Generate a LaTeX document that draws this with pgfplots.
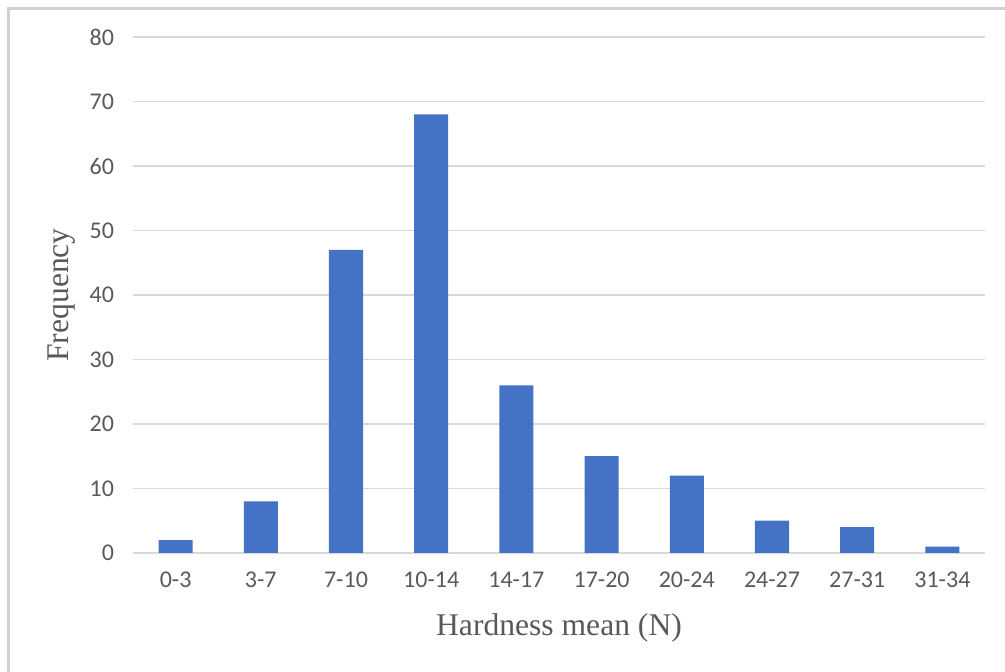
\documentclass[border=0pt]{standalone}
\usepackage{pgfplots}
\pgfplotsset{compat=1.18}
\usepackage{fontspec}
\setmainfont{Carlito}
\newfontfamily\labelfont{Liberation Serif}
\definecolor{barblue}{HTML}{4472C4}
\definecolor{gridgray}{HTML}{D9D9D9}
\definecolor{textgray}{HTML}{595959}
\definecolor{framegray}{HTML}{D0D0D0}

\pgfplotstableread{
idx freq
0 2
1 8
2 47
3 68
4 26
5 15
6 12
7 5
8 4
9 1
}\hardness

\begin{document}
\begin{tikzpicture}[x=1pt,y=1pt]
\path[use as bounding box] (0,0) rectangle (502.5,336);
\draw[framegray, line width=1.2pt] (4.3,0) -- (4.3,331.7) -- (502.5,331.7);
\begin{axis}[
  at={(66.5pt,59.5pt)}, anchor=south west,
  scale only axis, width=426pt, height=258pt,
  xmin=-0.5, xmax=9.5, ymin=0, ymax=80,
  ytick={0,10,...,80},
  xtick={0,...,9},
  xticklabels={0-3,3-7,7-10,10-14,14-17,17-20,20-24,24-27,27-31,31-34},
  axis line style={draw=none},
  tick style={draw=none},
  ymajorgrids,
  grid style={gridgray, line width=0.8pt},
  /pgf/number format/assume math mode=true,
  tick label style={font=\fontsize{12}{14}\selectfont, text=textgray},
  yticklabel style={xshift=-6pt},
  xticklabel style={yshift=-6pt},
  xlabel={Hardness mean (N)},
  ylabel={Frequency},
  label style={font=\labelfont\fontsize{15.8}{18}\selectfont, text=textgray},
  xlabel style={at={(axis description cs:0.5,-0.145)}, anchor=center},
  ylabel style={at={(axis description cs:-0.0833,0.5)}, anchor=center, rotate=0},
]
\addplot[ybar, bar width=0.4, fill=barblue, draw=none] table[x=idx, y=freq] {\hardness};
\end{axis}
\end{tikzpicture}
\end{document}
